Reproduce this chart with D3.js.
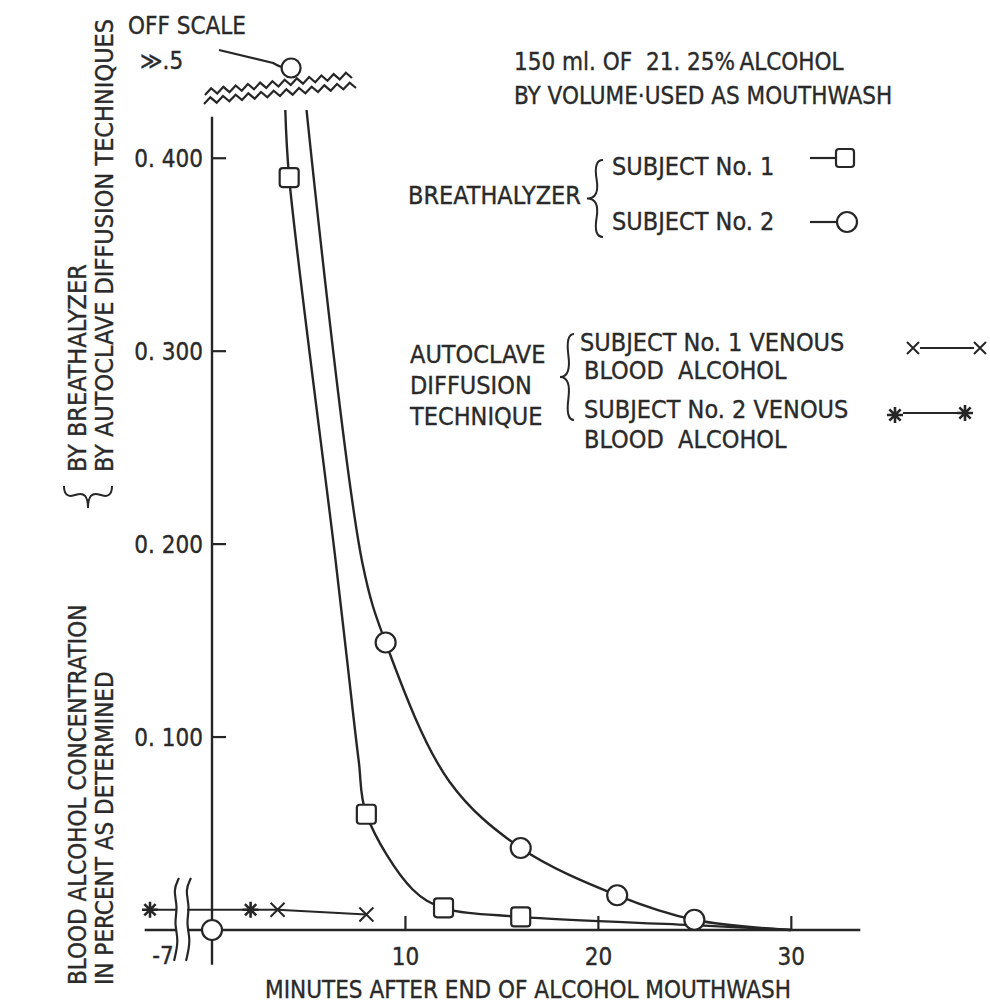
<!DOCTYPE html>
<html>
<head>
<meta charset="utf-8">
<script src="https://cdn.jsdelivr.net/npm/d3@7"></script>
<style>
  html, body { margin: 0; padding: 0; background: #ffffff; }
  svg { display: block; }
  text { font-family: "DejaVu Sans Condensed", "Liberation Sans Narrow", sans-serif; fill: #2a2a2a; stroke: #2a2a2a; stroke-width: 0.35; white-space: pre; }
</style>
</head>
<body>
<svg id="chart" width="990" height="1004"></svg>
<script>
// ---------------- DATA ----------------
// Breathalyzer, subject No. 1 (squares): traced curve incl. off-scale start and tail
const s1CurveTimes  = [3.8, 4.0, 6.4, 7.0, 7.6, 8, 10.4, 12, 16, 25, 30];
const s1CurveValues = [0.425, 0.390, 0.192, 0.140, 0.088, 0.060, 0.021, 0.0115, 0.0068, 0.0025, 0.0];
const s1MarkTimes   = [4.0, 8, 12, 16];
const s1MarkValues  = [0.390, 0.060, 0.0115, 0.0068];

// Breathalyzer, subject No. 2 (circles)
const s2CurveTimes  = [4.9, 7.8, 9, 12.3, 16, 21, 25, 30];
const s2CurveValues = [0.425, 0.190, 0.149, 0.077, 0.0425, 0.018, 0.0053, 0.0];
const s2MarkTimes   = [0, 9, 16, 21, 25];
const s2MarkValues  = [0, 0.149, 0.0425, 0.018, 0.0053];
const offScaleTime  = 4.1;       // reading ">>.5" drawn above the break
const offScaleLabel = "\u226B.5";

// Autoclave diffusion, venous blood
const v1Times  = [3.4, 8];        // subject 1 (x)
const v1Values = [0.0105, 0.008];
const v2Times  = [-7, 2];         // subject 2 (*)
const v2Values = [0.0105, 0.0105];

// Axes
const yTickValues = [0.1, 0.2, 0.3, 0.4];
const yTickLabels = ["0. 100", "0. 200", "0. 300", "0. 400"];
const xTickValues = [10, 20, 30];
const xTickLabels = ["10", "20", "30"];
const xBreakTick  = -7;
const xBreakLabel = "-7";

// Texts
const xTitle = "MINUTES AFTER END OF ALCOHOL MOUTHWASH";
const yTitleMain = ["BLOOD ALCOHOL CONCENTRATION", "IN PERCENT AS DETERMINED"];
const yTitleSub  = ["BY BREATHALYZER", "BY AUTOCLAVE DIFFUSION TECHNIQUES"];
const noteLines  = ["150 ml. OF  21. 25%\u2009ALCOHOL", "BY VOLUME\u00B7USED AS MOUTHWASH"];

// ---------------- DRAWING ----------------
const svg = d3.select("#chart");
const ink = "#262626";
const FS = 25;

const x = d3.scaleLinear().domain([-7, 0, 34]).range([150, 212, 868]);
const y = d3.scaleLinear().domain([0, 0.425]).range([930, 110]);

// y axis line
svg.append("line")
  .attr("x1", x(0)).attr("x2", x(0))
  .attr("y1", y(0.4215)).attr("y2", y(-0.018))
  .attr("stroke", ink).attr("stroke-width", 2.4);

// y ticks (to the right) and labels
const yt = svg.append("g");
yTickValues.forEach((v, i) => {
  yt.append("line").attr("x1", x(0)).attr("x2", x(0) + 14)
    .attr("y1", y(v)).attr("y2", y(v)).attr("stroke", ink).attr("stroke-width", 2.2);
  yt.append("text").attr("x", x(0) - 9).attr("y", y(v)).attr("dy", "0.36em")
    .attr("text-anchor", "end").attr("font-size", 24).text(yTickLabels[i]);
});

// x axis line (with break on the left)
svg.append("line")
  .attr("x1", x(-7.6)).attr("x2", x(33.6))
  .attr("y1", y(0)).attr("y2", y(0))
  .attr("stroke", ink).attr("stroke-width", 2.4);

const xAxis = d3.axisBottom(x).tickValues(xTickValues)
  .tickFormat((d, i) => xTickLabels[i]).tickSize(-14).tickPadding(18);
const gx = svg.append("g").attr("transform", `translate(0,${y(0)})`).call(xAxis);
gx.select(".domain").remove();
gx.selectAll(".tick line").attr("stroke", ink).attr("stroke-width", 2.2);
gx.selectAll(".tick text").attr("font-size", 24).attr("fill", ink).attr("stroke", ink).attr("stroke-width", 0.35)
  .style("font-family", "'DejaVu Sans Condensed','Liberation Sans Narrow',sans-serif");
// -7 label on the broken part
svg.append("text").attr("x", x(xBreakTick) + 13).attr("y", y(0) + 34)
  .attr("text-anchor", "middle").attr("font-size", 24).text(xBreakLabel);

// x title
svg.append("text").attr("x", 528).attr("y", 998)
  .attr("text-anchor", "middle").attr("font-size", 24).text(xTitle);

// y titles (rotated)
function vText(tx, ty, str, size) {
  svg.append("text").attr("transform", `translate(${tx},${ty}) rotate(-90)`)
    .attr("font-size", size).attr("text-anchor", "start").text(str);
}
vText(86, 985, yTitleMain[0], 24);
vText(113, 985, yTitleMain[1], 24);
vText(86, 472, yTitleSub[0], 25);
vText(113, 472, yTitleSub[1], 25);

// curly brace helper
function brace(x1, y1, x2, y2, w, q) {
  const len = Math.hypot(x1 - x2, y1 - y2);
  const dx = (x1 - x2) / len, dy = (y1 - y2) / len;
  const qx1 = x1 + q * w * dy, qy1 = y1 - q * w * dx;
  const qx2 = (x1 - .25 * len * dx) + (1 - q) * w * dy, qy2 = (y1 - .25 * len * dy) - (1 - q) * w * dx;
  const tx1 = (x1 - .5 * len * dx) + w * dy, ty1 = (y1 - .5 * len * dy) - w * dx;
  const qx3 = x2 + q * w * dy, qy3 = y2 - q * w * dx;
  const qx4 = (x1 - .75 * len * dx) + (1 - q) * w * dy, qy4 = (y1 - .75 * len * dy) - (1 - q) * w * dx;
  return `M${x1},${y1}Q${qx1},${qy1} ${qx2},${qy2}T${tx1},${ty1}M${x2},${y2}Q${qx3},${qy3} ${qx4},${qy4}T${tx1},${ty1}`;
}
const braceStyle = s => s.attr("fill", "none").attr("stroke", ink).attr("stroke-width", 2);
svg.append("path").attr("d", brace(64, 486, 112, 486, 22, 0.6)).call(braceStyle);

// break marks on the top of y axis (zigzag)
function zig(x0, y0, x1, y1, n, amp) {
  const pts = d3.range(n + 1).map(i => {
    const t = i / n;
    const off = (i % 2 === 0) ? 0 : -amp;
    return [x0 + (x1 - x0) * t, y0 + (y1 - y0) * t + off];
  });
  return d3.line()(pts);
}
svg.append("path").attr("d", zig(205, 95, 352, 78, 24, 6))
  .attr("fill", "none").attr("stroke", ink).attr("stroke-width", 2.2);
svg.append("path").attr("d", zig(204, 104, 356, 88, 24, 6))
  .attr("fill", "none").attr("stroke", ink).attr("stroke-width", 2.2);

// curves
const line = d3.line().x(d => x(d[0])).y(d => y(d[1])).curve(d3.curveCatmullRom.alpha(0.5));
svg.append("path").attr("d", line(s1CurveTimes.map((t, i) => [t, s1CurveValues[i]])))
  .attr("fill", "none").attr("stroke", ink).attr("stroke-width", 2.4);
svg.append("path").attr("d", line(s2CurveTimes.map((t, i) => [t, s2CurveValues[i]])))
  .attr("fill", "none").attr("stroke", ink).attr("stroke-width", 2.4);

// venous lines
const straight = d3.line().x(d => x(d[0])).y(d => y(d[1]));
svg.append("path").attr("d", straight(v2Times.map((t, i) => [t, v2Values[i]])))
  .attr("fill", "none").attr("stroke", ink).attr("stroke-width", 2);
svg.append("path").attr("d", straight([[v2Times[1], v2Values[1]], [v1Times[0], v1Values[0]]]))
  .attr("fill", "none").attr("stroke", ink).attr("stroke-width", 2);
svg.append("path").attr("d", straight(v1Times.map((t, i) => [t, v1Values[i]])))
  .attr("fill", "none").attr("stroke", ink).attr("stroke-width", 2);

// x-axis break marks (wavy verticals, with white gap)
const bx1 = 176, bx2 = 188;
const bTop = y(0.027), bBot = y(-0.016);
svg.append("rect").attr("x", bx1 + 1).attr("y", bTop).attr("width", bx2 - bx1 - 2).attr("height", bBot - bTop).attr("fill", "#fff");
function wavy(xc, yTop, yBot) {
  const h = yBot - yTop;
  const pts = [[xc + 3, yTop], [xc - 3, yTop + h * 0.15], [xc + 2, yTop + h * 0.35], [xc - 2, yTop + h * 0.55], [xc + 3, yTop + h * 0.75], [xc - 2, yBot]];
  return d3.line().curve(d3.curveBasis)(pts);
}
svg.append("path").attr("d", wavy(bx1, bTop, bBot)).attr("fill", "none").attr("stroke", ink).attr("stroke-width", 2.2);
svg.append("path").attr("d", wavy(bx2, bTop, bBot)).attr("fill", "none").attr("stroke", ink).attr("stroke-width", 2.2);

// markers
function square(g, cx, cy, s) {
  g.append("rect").attr("x", cx - s / 2).attr("y", cy - s / 2).attr("width", s).attr("height", s)
    .attr("rx", 3).attr("fill", "#fff").attr("stroke", ink).attr("stroke-width", 2.2);
}
function circle(g, cx, cy, r) {
  g.append("circle").attr("cx", cx).attr("cy", cy).attr("r", r)
    .attr("fill", "#fff").attr("stroke", ink).attr("stroke-width", 2.2);
}
function cross(g, cx, cy, s) {
  g.append("path").attr("d", `M${cx - s},${cy - s}L${cx + s},${cy + s}M${cx - s},${cy + s}L${cx + s},${cy - s}`)
    .attr("stroke", ink).attr("stroke-width", 2).attr("fill", "none");
}
function star(g, cx, cy, s) {
  let d = "";
  for (let k = 0; k < 4; k++) {
    const a = k * Math.PI / 4;
    d += `M${cx - s * Math.cos(a)},${cy - s * Math.sin(a)}L${cx + s * Math.cos(a)},${cy + s * Math.sin(a)}`;
  }
  g.append("path").attr("d", d).attr("stroke", ink).attr("stroke-width", 2.6).attr("fill", "none");
}
const gm = svg.append("g");
s1MarkTimes.forEach((t, i) => square(gm, x(t), y(s1MarkValues[i]), 19));
s2MarkTimes.forEach((t, i) => circle(gm, x(t), y(s2MarkValues[i]), 10));
v1Times.forEach((t, i) => cross(gm, x(t), y(v1Values[i]), 7));
v2Times.forEach((t, i) => star(gm, x(t), y(v2Values[i]), 8));

// off-scale point
const ox = x(offScaleTime), oy = 68;
circle(gm, ox, oy, 9.5);
svg.append("path").attr("d", `M219,50 L${ox - 18},${oy - 5} Q${ox - 13},${oy - 2} ${ox - 9.5},${oy - 1}`)
  .attr("fill", "none").attr("stroke", ink).attr("stroke-width", 2.2);
svg.append("text").attr("x", 128).attr("y", 34).attr("font-size", 24).text("OFF SCALE");
svg.append("text").attr("x", 140).attr("y", 69).attr("font-size", 24).text(offScaleLabel);

// note at top right
svg.append("text").attr("x", 514).attr("y", 70).attr("font-size", 24).text(noteLines[0]);
svg.append("text").attr("x", 514).attr("y", 104).attr("font-size", 24).text(noteLines[1]);

// legend: breathalyzer
const lg = svg.append("g");
lg.append("text").attr("x", 408).attr("y", 204).attr("font-size", FS).text("BREATHALYZER");
lg.append("path").attr("d", brace(603, 160, 603, 237, 16, 0.6)).call(braceStyle);
lg.append("text").attr("x", 612).attr("y", 175).attr("font-size", FS).text("SUBJECT No. 1");
lg.append("text").attr("x", 612).attr("y", 230).attr("font-size", FS).text("SUBJECT No. 2");
lg.append("line").attr("x1", 810).attr("x2", 836).attr("y1", 158).attr("y2", 158).attr("stroke", ink).attr("stroke-width", 2.2);
square(lg, 845, 158, 18);
lg.append("line").attr("x1", 810).attr("x2", 837).attr("y1", 222).attr("y2", 222).attr("stroke", ink).attr("stroke-width", 2.2);
circle(lg, 847, 222, 10);

// legend: autoclave
lg.append("text").attr("x", 410).attr("y", 363).attr("font-size", FS).text("AUTOCLAVE");
lg.append("text").attr("x", 410).attr("y", 394).attr("font-size", FS).text("DIFFUSION");
lg.append("text").attr("x", 410).attr("y", 425).attr("font-size", FS).text("TECHNIQUE");
lg.append("path").attr("d", brace(574, 334, 574, 420, 14, 0.6)).call(braceStyle);
lg.append("text").attr("x", 580).attr("y", 351).attr("font-size", FS).text("SUBJECT No. 1 VENOUS");
lg.append("text").attr("x", 584).attr("y", 379).attr("font-size", FS).text("BLOOD  ALCOHOL");
lg.append("text").attr("x", 584).attr("y", 418).attr("font-size", FS).text("SUBJECT No. 2 VENOUS");
lg.append("text").attr("x", 584).attr("y", 448).attr("font-size", FS).text("BLOOD  ALCOHOL");
lg.append("line").attr("x1", 920).attr("x2", 974).attr("y1", 348).attr("y2", 348).attr("stroke", ink).attr("stroke-width", 2);
cross(lg, 913, 348, 6);
cross(lg, 980, 348, 6);
lg.append("line").attr("x1", 903).attr("x2", 957).attr("y1", 413).attr("y2", 413).attr("stroke", ink).attr("stroke-width", 2);
star(lg, 895, 415, 8);
star(lg, 965, 413, 8);
</script>
</body>
</html>
